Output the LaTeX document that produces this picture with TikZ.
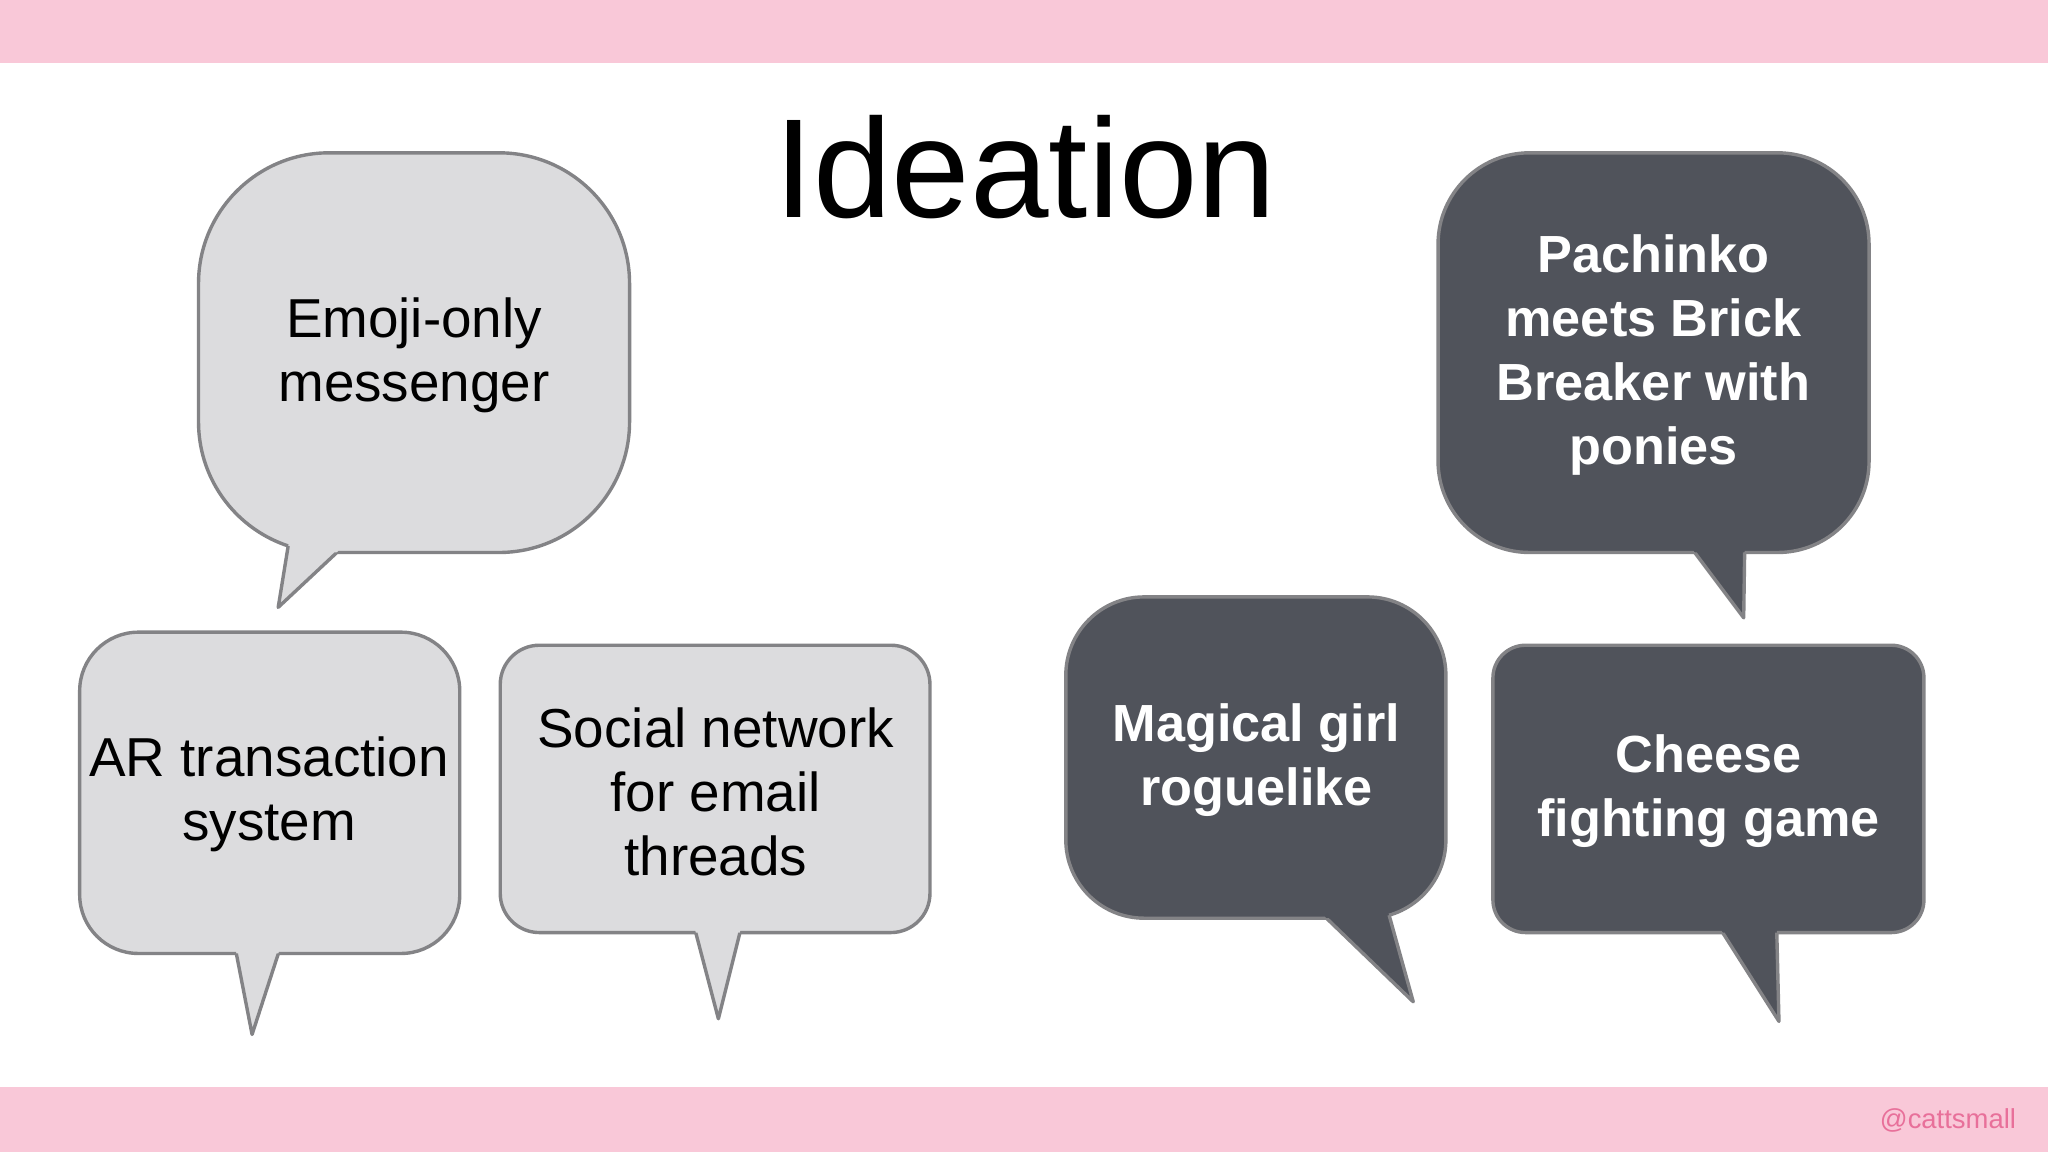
\documentclass[tikz,border=0pt]{standalone}
\usepackage{fontspec}
\setmainfont{Liberation Sans}
\definecolor{pinkband}{HTML}{F9C8D8}
\definecolor{lightfill}{HTML}{DCDCDE}
\definecolor{darkfill}{HTML}{50535B}
\definecolor{bordercol}{HTML}{838386}
\definecolor{handle}{HTML}{E8709A}
\tikzset{
 bline/.style={draw=bordercol,line width=2.6pt,line join=round},
 lighttxt/.style={align=center,font=\fontsize{42}{49}\selectfont,text=black},
 darktxt/.style={align=center,font=\fontsize{40}{49}\selectfont\bfseries,text=white},
}
\newcommand\mybub[3]{%
 \fill[#1] #2; \fill[#1] #3;
 \begin{scope}[even odd rule]\clip (-10,-10) rectangle (1600,900) #3; \draw[bline] #2;\end{scope}
 \begin{scope}[even odd rule]\clip (-10,-10) rectangle (1600,900) #2; \draw[bline] #3;\end{scope}}
\begin{document}
\begin{tikzpicture}[x=1pt,y=-1pt]
\useasboundingbox (0,0) rectangle (1568,882);
\fill[white] (0,0) rectangle (1568,882);
\fill[pinkband] (0,0) rectangle (1568,48);
\fill[pinkband] (0,832) rectangle (1568,882);
\node[font=\fontsize{108}{120}\selectfont] (title) at (785,128) {Ideation};
% light bubbles
\mybub{lightfill}{[rounded corners=100] (152,117) rectangle (482,423)}{(226,385) -- (213,465) -- (290,393) -- cycle}
\mybub{lightfill}{[rounded corners=45] (61,484) rectangle (352,730)}{(178,715) -- (193,792) -- (218,715) -- cycle}
\mybub{lightfill}{[rounded corners=30] (383,494) rectangle (712,714)}{(529,700) -- (550,780) -- (570,700) -- cycle}
% dark bubbles
\mybub{darkfill}{[rounded corners=70] (1101,117) rectangle (1431,423)}{(1284,405) -- (1335,473) -- (1336,405) -- cycle}
\mybub{darkfill}{[rounded corners=60] (816,457) rectangle (1107,703)}{(1000,688) -- (1082,767) -- (1055,670) -- cycle}
\mybub{darkfill}{[rounded corners=25] (1143,494) rectangle (1473,714)}{(1310,700) -- (1362,782) -- (1360,700) -- cycle}
\node[lighttxt] (t1) at (317,272) {Emoji-only\\messenger};
\node[lighttxt] (t2) at (206,608) {AR transaction\\system};
\node[lighttxt] (t3) at (548,606) {Social network\\for email\\threads};
\node[darktxt] (t4) at (1266,272) {Pachinko\\meets Brick\\Breaker with\\ponies};
\node[darktxt] (t5) at (962,582) {Magical girl\\roguelike};
\node[darktxt] (t6) at (1308,606) {Cheese\\fighting game};
\node[anchor=east,text=handle,font=\fontsize{21}{24}\selectfont] (h) at (1547,858) {@cattsmall};
\end{tikzpicture}
\end{document}
